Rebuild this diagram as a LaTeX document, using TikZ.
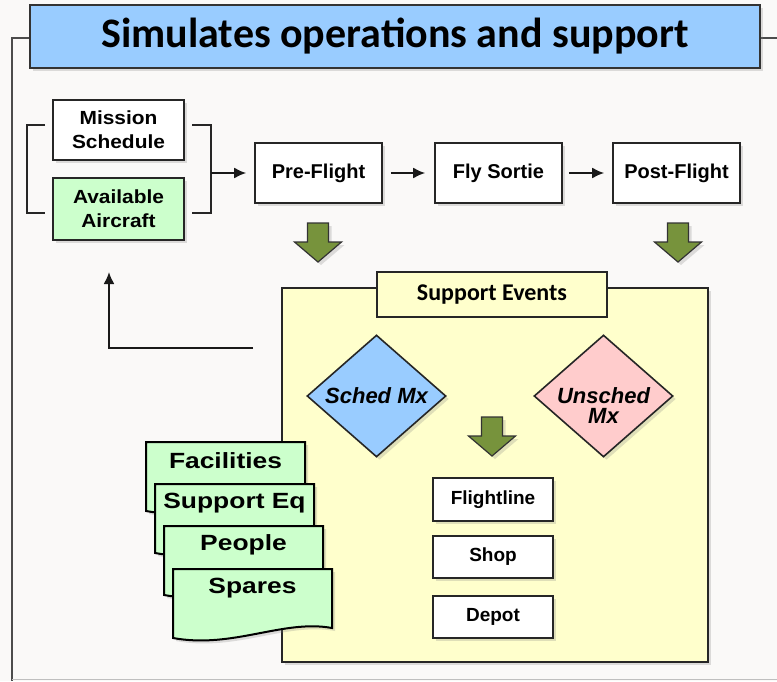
\documentclass[tikz,border=0pt]{standalone}
\usepackage{fontspec}
\setmainfont{Liberation Sans}
\newfontfamily\calibfont{Carlito}
\newfontfamily\widefont{Liberation Sans}[FakeStretch=1.2]
\newfontfamily\semiwidefont{Liberation Sans}[FakeStretch=1.1]
\usetikzlibrary{shapes.geometric,arrows.meta,shadows}
\definecolor{bgcol}{RGB}{250,249,248}
\definecolor{titleblue}{RGB}{153,204,255}
\definecolor{availgreen}{RGB}{204,255,204}
\definecolor{eventyellow}{RGB}{255,255,204}
\definecolor{unschedpink}{RGB}{255,204,204}
\definecolor{olive}{RGB}{119,147,60}
\begin{document}
\begin{tikzpicture}[x=1pt,y=-1pt,
    softshadow/.style ={drop shadow={shadow xshift=3pt, shadow yshift=-3pt, opacity=0.25}},
    box/.style ={rectangle, draw=black!85, line width=1.6pt, fill=white, inner sep=0pt,
      minimum width=127pt, minimum height=60pt, align=center,
      font=\bfseries\fontsize{20}{23}\selectfont, softshadow},
    smallbox/.style ={box, minimum width=120pt, minimum height=42pt,
      font=\bfseries\fontsize{19}{21}\selectfont},
    titlebox/.style ={rectangle, draw=black!80, line width=1.4pt, fill=titleblue,
      minimum width=730pt, minimum height=63pt, inner sep=0pt,
      font=\calibfont\bfseries\fontsize{42}{46}\selectfont, softshadow},
    panel/.style ={rectangle, draw=black!85, line width=1.6pt, fill=eventyellow,
      minimum width=426pt, minimum height=374pt, inner sep=0pt, softshadow},
    tab/.style ={rectangle, draw=black!85, line width=1.4pt, fill=eventyellow,
      minimum width=230pt, minimum height=45pt, inner sep=0pt,
      font=\calibfont\bfseries\fontsize{24}{26}\selectfont},
    decision/.style ={diamond, draw=black!85, line width=1.6pt, inner sep=0pt,
      minimum width=139pt, minimum height=122pt, softshadow},
    dlabel/.style ={align=center, font=\bfseries\itshape\fontsize{22}{22}\selectfont},
    card/.style ={draw=black, line width=2pt, fill=availgreen, softshadow},
    cardtext/.style ={font=\widefont\bfseries\fontsize{22}{24}\selectfont},
    bracket/.style ={draw=black!85, line width=1.8pt},
    flow/.style ={draw=black!90, line width=2pt, -{Latex[length=12pt,width=11pt]}},
    blockarrow/.style ={draw=black!80, line width=1.2pt, fill=olive, softshadow}]
   % page and frame
   \fill[bgcol] (0,0) rectangle (777,681);
   \useasboundingbox (0,0) rectangle (777,681);
   \draw[black!70, line width=1.4pt] (777,38) -- (12,38) -- (12,681);
   \draw[black!25, line width=1pt] (12,679) -- (777,679);
   \node[titlebox] (title) at (395,36.5) {Simulates operations and support};

   % inputs
   \node[box, minimum width=131pt, minimum height=60pt, font=\semiwidefont\bfseries\fontsize{19}{24}\selectfont]
      (mission) at (118.5,130) {Mission\\Schedule};
   \node[box, fill=availgreen, minimum width=131pt, minimum height=62pt, font=\semiwidefont\bfseries\fontsize{19}{24}\selectfont]
      (avail) at (118.5,209) {Available\\Aircraft};
   \draw[bracket] (45,125) -- (27,125) -- (27,213) -- (45,213);
   \draw[bracket] (192,125) -- (211,125) -- (211,213) -- (192,213);
   \coordinate (brk) at (211,173);

   % sortie cycle
   \node[box] (pre)  at (318.5,173) {Pre-Flight};
   \node[box] (fly)  at (498.5,173) {Fly Sortie};
   \node[box] (post) at (676.5,173) {Post-Flight};
   \draw[flow, shorten >=8pt] (brk) to (pre);
   \draw[flow, shorten <=8pt, shorten >=9pt] (pre) to (fly);
   \draw[flow, shorten <=6pt, shorten >=8pt] (fly) to (post);

   % support events
   \node[panel] (events) at (495,475) {};
   \node[tab] (evtab) at (492,294.5) {Support Events};
   \foreach \x/\y in {318/223, 678/223, 492/417}
     \draw[blockarrow] (\x,\y) ++(-10.5,0) -- ++(21,0) -- ++(0,19) -- ++(13,0)
        -- ++(-23.5,20) -- ++(-23.5,-20) -- ++(13,0) -- cycle;
   \node[decision, fill=titleblue] (sched) at (376.5,396) {};
   \node[dlabel] (schedtxt) at (sched) {Sched Mx};
   \node[decision, fill=unschedpink] (unsched) at (603.5,396) {};
   \node[dlabel] (unschedtxt) at (603.5,406) {Unsched\\[-2pt]Mx};
   \node[smallbox, minimum height=43pt] (flightline) at (493,499.5) {Flightline};
   \node[smallbox] (shop)  at (493,557) {Shop};
   \node[smallbox] (depot) at (493,617) {Depot};

   % resources
   \foreach \n/\lab/\L/\T in {fac/Facilities/146/442, supeq/Support Eq/155/484,
                              people/People/164/526, spares/Spares/173/569} {
     \draw[card] (\L,\T) -- (\L+159,\T) -- (\L+159,\T+59)
        .. controls (\L+110,\T+50) and (\L+60,\T+80) .. (\L,\T+69) -- cycle;
     \node[cardtext] (\n) at (\L+79.5,\T+19) {\lab};
   }

   % back to the schedule
   \coordinate (loopstart) at (253,348);
   \coordinate (loopend) at (109,272);
   \draw[flow] (loopstart) -| (loopend);
 \end{tikzpicture}
\end{document}
